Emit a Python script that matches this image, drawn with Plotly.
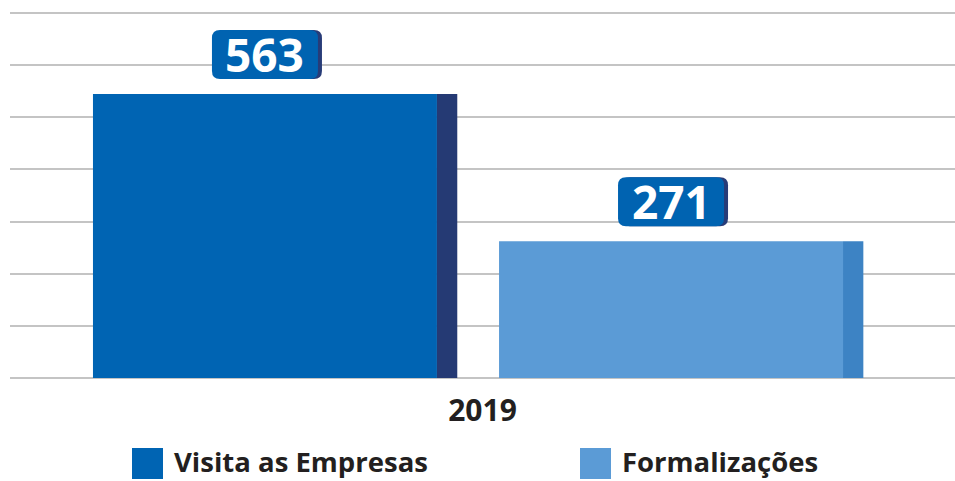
import plotly.graph_objects as go

# Data
categories = ["2019"]
series_names = ["Visita as Empresas", "Formalizações"]
visitas = [563]
formalizacoes = [271]

main_colors = ["#0064B3", "#5B9BD6"]
side_colors = ["#253A74", "#3D83C4"]
badge_color = "#0063B1"
badge_shadow = "#283C78"
grid_color = "#C4C4C4"
text_color = "#231F20"
FONT = "Open Sans"

# bar geometry in category units (x axis spans [-0.5, 0.5])
main_offsets = [-0.4122, 0.0175]
main_width = 0.3640
side_width = 0.0215

fig = go.Figure()
series_values = [visitas, formalizacoes]
for i, (name, vals) in enumerate(zip(series_names, series_values)):
    fig.add_trace(go.Bar(
        x=categories, y=vals, name=name,
        offset=main_offsets[i], width=main_width,
        marker=dict(color=main_colors[i], line=dict(width=0)),
        showlegend=False,
    ))
    fig.add_trace(go.Bar(
        x=categories, y=vals, name=name,
        offset=main_offsets[i] + main_width, width=side_width,
        marker=dict(color=side_colors[i], line=dict(width=0)),
        showlegend=False, hoverinfo="skip",
    ))


def rounded_path(x0, y0, x1, y1, r):
    return (f"M{x0+r},{y0} L{x1-r},{y0} Q{x1},{y0} {x1},{y0+r} "
            f"L{x1},{y1-r} Q{x1},{y1} {x1-r},{y1} L{x0+r},{y1} "
            f"Q{x0},{y1} {x0},{y1-r} L{x0},{y0+r} Q{x0},{y0} {x0+r},{y0} Z")


# value badges anchored to the top of each bar
shapes = []
annotations = []
bw, bh, gap = 106, 49, 15
for i, vals in enumerate(series_values):
    v = vals[0]
    cx = main_offsets[i] + main_width / 2
    shapes.append(dict(
        type="path", xref="x", yref="y", xsizemode="pixel", ysizemode="pixel",
        xanchor=cx, yanchor=v,
        path=rounded_path(-bw / 2 + 4, gap, bw / 2 + 4, gap + bh, 8),
        fillcolor=badge_shadow, line=dict(width=0), layer="above",
    ))
    shapes.append(dict(
        type="path", xref="x", yref="y", xsizemode="pixel", ysizemode="pixel",
        xanchor=cx, yanchor=v,
        path=rounded_path(-bw / 2, gap, bw / 2, gap + bh, 8),
        fillcolor=badge_color, line=dict(width=0), layer="above",
    ))
    annotations.append(dict(
        x=cx, y=v, xref="x", yref="y", text=f"<b>{v}</b>", showarrow=False,
        yanchor="middle", yshift=gap + bh / 2 + 1,
        font=dict(family=FONT, size=46, color="white"),
    ))

# custom legend with large swatches
PLOT_H = 370
legend_x = [133, 581]
for i, name in enumerate(series_names):
    shapes.append(dict(
        type="rect", xref="paper", yref="paper",
        x0=(legend_x[i] - 11) / 945, x1=(legend_x[i] + 20) / 945,
        y0=-(448 - 378) / PLOT_H, y1=-(479 - 378) / PLOT_H,
        fillcolor=main_colors[i], line=dict(width=0),
    ))
    annotations.append(dict(
        x=(legend_x[i] + 29) / 945, y=-(462 - 378) / PLOT_H,
        xref="paper", yref="paper", xanchor="left", yanchor="middle",
        text=f"<b>{name}</b>", showarrow=False,
        font=dict(family=FONT, size=27.5, color=text_color),
    ))

fig.update_layout(
    width=955, height=481,
    margin=dict(l=10, r=0, t=8, b=103),
    paper_bgcolor="white", plot_bgcolor="white",
    barmode="overlay",
    showlegend=False,
    shapes=shapes, annotations=annotations,
    xaxis=dict(
        type="category", range=[-0.5, 0.5], showgrid=False, zeroline=False,
        showline=False, ticks="", ticklabelstandoff=12,
        tickfont=dict(family=FONT, size=30, color=text_color, weight="bold"),
    ),
    yaxis=dict(
        range=[0, 733.5], tick0=0, dtick=103.37, showticklabels=False,
        showgrid=True, gridcolor=grid_color, gridwidth=2,
        zeroline=True, zerolinecolor=grid_color, zerolinewidth=2,
    ),
)

fig.write_html("out.html")
